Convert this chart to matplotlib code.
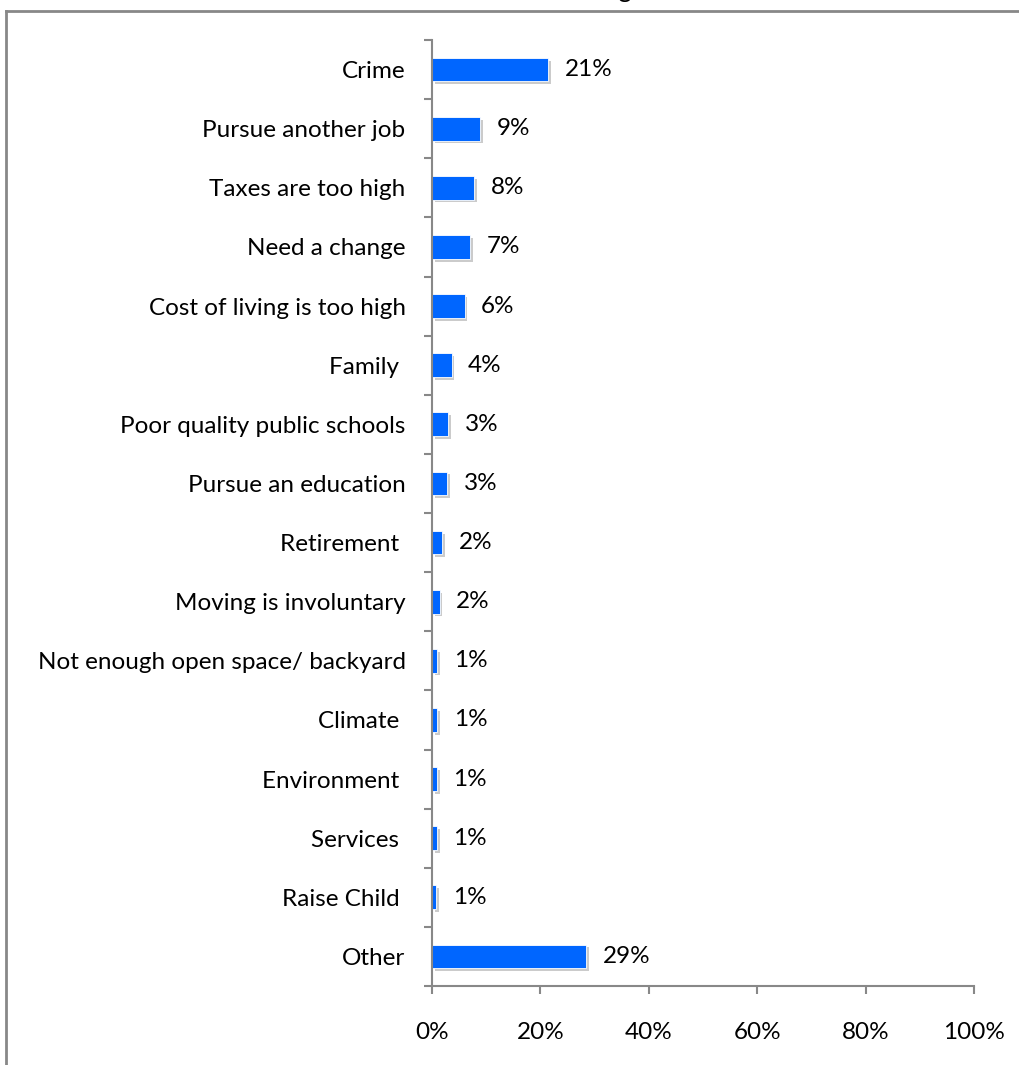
import numpy as np
import matplotlib.pyplot as plt
import matplotlib.patheffects as pe
from matplotlib.lines import Line2D

plt.rcParams['font.family'] = ['Lato', 'DejaVu Sans']

# Reasons for moving
reasons = ['Crime', 'Pursue another job', 'Taxes are too high', 'Need a change',
           'Cost of living is too high', 'Family ', 'Poor quality public schools',
           'Pursue an education', 'Retirement ', 'Moving is involuntary',
           'Not enough open space/ backyard', 'Climate ', 'Environment ',
           'Services ', 'Raise Child ', 'Other']
shares = np.array([21.4, 8.9, 7.8, 7.1, 6.0, 3.6, 3.0, 2.8, 1.8, 1.4,
                   1.0, 1.0, 0.9, 0.9, 0.8, 28.5])
labels = ['21%', '9%', '8%', '7%', '6%', '4%', '3%', '3%', '2%', '2%',
          '1%', '1%', '1%', '1%', '1%', '29%']
xticks = [0, 20, 40, 60, 80, 100]

fs = 17.5
fig = plt.figure(figsize=(10.19, 10.65), dpi=100)
ax = fig.add_axes([432/1019, 1 - 986/1065, 542/1019, (986 - 40)/1065])

y = np.arange(len(reasons))
ax.barh(y, shares, height=0.4, color='#0066ff', edgecolor='white', linewidth=0.6,
        path_effects=[pe.SimplePatchShadow(offset=(2, -2), shadow_rgbFace='#999999', alpha=0.5),
                      pe.Normal()])
for yi, v, lab in zip(y, shares, labels):
    ax.annotate(lab, (v, yi), xytext=(12, 0), textcoords='offset points',
                va='center', ha='left', fontsize=fs)

ax.set_xlim(0, 100)
ax.set_ylim(len(reasons) - 0.5, -0.5)
ax.set_xticks(xticks)
ax.set_xticklabels([f'{t}%' for t in xticks], fontsize=fs)
ax.set_yticks(y)
ax.set_yticklabels(reasons, fontsize=fs)
ax.set_yticks(np.arange(-0.5, len(reasons)), minor=True)

gray = '#888888'
for side in ['top', 'right']:
    ax.spines[side].set_visible(False)
for side in ['left', 'bottom']:
    ax.spines[side].set_color(gray)
    ax.spines[side].set_linewidth(1.5)
ax.tick_params(axis='y', which='major', length=0, pad=19)
ax.tick_params(axis='y', which='minor', length=6, width=1.5, color=gray, direction='out')
ax.tick_params(axis='x', length=6, width=1.5, color=gray, direction='out', pad=20)

# outer chart frame and the title, clipped by the top edge
fig.add_artist(Line2D([6/1019, 6/1019], [0, 1 - 11/1065], color=gray, lw=2, transform=fig.transFigure))
fig.add_artist(Line2D([6/1019, 1], [1 - 11/1065, 1 - 11/1065], color=gray, lw=2, transform=fig.transFigure))
fig.text(632/1019, 1.0 + 2/1065, 'Reasons for Moving', ha='right', va='baseline', fontsize=18)

plt.savefig('out.png', dpi=100)
